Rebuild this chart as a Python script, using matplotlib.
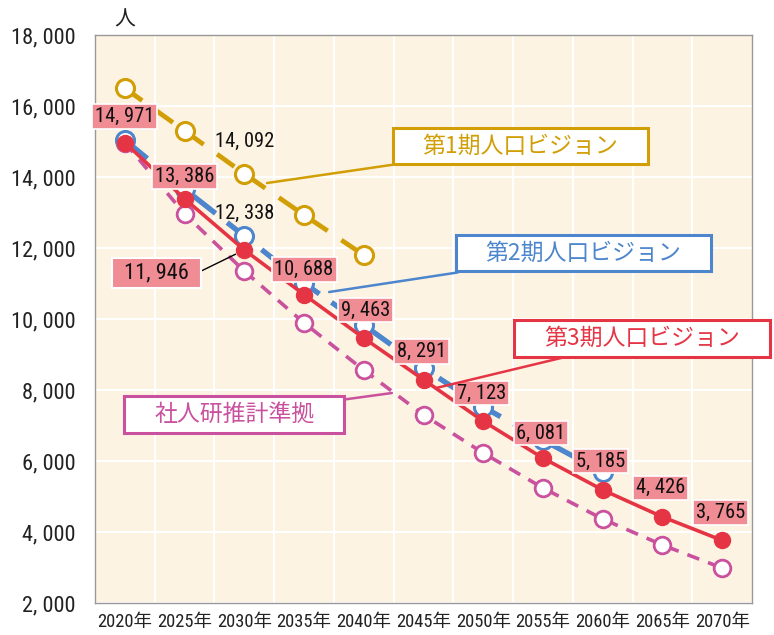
import matplotlib
matplotlib.use("Agg")
import matplotlib.pyplot as plt
from matplotlib.ticker import FuncFormatter
from matplotlib import font_manager

plt.rcParams['font.family'] = ['Noto Sans CJK JP', 'DejaVu Sans']

_ttf = font_manager.fontManager.ttflist
_names = {f.name for f in _ttf}
NUMFAM = ['Noto Sans CJK JP', 'DejaVu Sans']
STRETCH = 'normal'
K = 0.78
for cand in ['Liberation Sans Narrow', 'Roboto Condensed', 'Open Sans Condensed',
             'Noto Sans Condensed', 'DejaVu Sans Condensed']:
    if cand in _names:
        NUMFAM = [cand, 'Noto Sans CJK JP']
        K = 1.0 if 'Narrow' in cand else 0.92
        break
else:
    if any(f.name == 'DejaVu Sans' and 'ondensed' in f.fname for f in _ttf):
        NUMFAM = ['DejaVu Sans', 'Noto Sans CJK JP']
        STRETCH = 'condensed'
        K = 0.88

years = ['2020年', '2025年', '2030年', '2035年', '2040年', '2045年', '2050年',
         '2055年', '2060年', '2065年', '2070年']
vision1 = [16500, 15300, 14092, 12930, 11800]
vision2 = [15040, 13660, 12338, 11010, 9830, 8620, 7520, 6590, 5690]
vision3 = [14971, 13386, 11946, 10688, 9463, 8291, 7123, 6081, 5185, 4426, 3765]
ipss = [14971, 12960, 11350, 9890, 8560, 7300, 6225, 5240, 4366, 3634, 2986]

yticks = [2000, 4000, 6000, 8000, 10000, 12000, 14000, 16000, 18000]

c_gold = '#D19E06'
c_blue = '#4D86CC'
c_red = '#E53545'
c_mag = '#C9519D'
c_bg = '#FDF3E2'
c_lab = '#F08C94'


def fmt(v):
    return f"{int(v):,}".replace(',', ', ')


fig = plt.figure(figsize=(7.74, 6.35), dpi=100)
ax = fig.add_axes([95/774, 32/635, 657/774, 568/635])
ax.set_facecolor(c_bg)

x = list(range(len(years)))

ax.plot(x[:len(ipss)], ipss, color=c_mag, lw=2.6, dashes=(3.5, 2.6), marker='o',
        ms=12, mfc='white', mec=c_mag, mew=2.0, zorder=3)
ax.plot(x[:len(vision1)], vision1, color=c_gold, lw=3.4, dashes=(4.5, 3.5), marker='o',
        ms=13, mfc='white', mec=c_gold, mew=2.2, zorder=3)
ax.plot(x[:len(vision2)], vision2, color=c_blue, lw=3.8, dashes=(5.5, 2.8), marker='o',
        ms=13, mfc='white', mec=c_blue, mew=2.2, zorder=4)
ax.plot(x, vision3, color=c_red, lw=2.6, marker='o', ms=11.5, mfc=c_red, mec=c_red,
        zorder=5)

ax.set_xlim(-0.5, len(years) - 0.5)
ax.set_ylim(2000, 18000)
ax.set_yticks(yticks)
ax.yaxis.set_major_formatter(FuncFormatter(lambda v, p: fmt(v)))
ax.set_xticks(x)
ax.set_xticklabels(years)
ax.set_xticks([i - 0.5 for i in range(1, len(years))], minor=True)
ax.grid(which='minor', axis='x', color='white', lw=1.5)
ax.grid(which='major', axis='y', color='white', lw=1.5)
ax.grid(which='major', axis='x', visible=False)
ax.set_axisbelow(True)
ax.tick_params(axis='both', which='both', length=0)
ax.tick_params(axis='y', pad=14, colors='#222222')
ax.tick_params(axis='x', pad=7, colors='#222222')
for lab in ax.get_yticklabels():
    lab.set_family(NUMFAM)
    lab.set_fontstretch(STRETCH)
    lab.set_fontsize(17.5 * K)
for lab in ax.get_xticklabels():
    lab.set_family(NUMFAM)
    lab.set_fontstretch(STRETCH)
    lab.set_fontsize(14.5 * K)
for s in ax.spines.values():
    s.set_color('#999999')
    s.set_linewidth(1.0)

ax.annotate('人', xy=(0, 18000), xytext=(0, 15), textcoords='offset pixels',
            fontsize=15, ha='center', va='center', color='#222222', annotation_clip=False)

# red data labels
offsets = [(0, 26), (0, 22), (-88, -23), (0, 25), (2, 28), (-2, 28), (-2, 28),
           (-2, 25), (-2, 29), (-2, 29), (-2, 28)]
for i, (v, off) in enumerate(zip(vision3, offsets)):
    if i == 2:
        ax.annotate(fmt(v), xy=(i, v), xytext=off,
                    textcoords='offset pixels', ha='center', va='center', fontsize=17.5 * K,
                    family=NUMFAM, fontstretch=STRETCH, color='#111111', zorder=7,
                    bbox=dict(boxstyle='square,pad=0.55', mutation_aspect=0.38,
                              fc=c_lab, ec='white', lw=1.5),
                    arrowprops=dict(arrowstyle='-', color='black', lw=1.0, shrinkA=0,
                                    shrinkB=7,
                                    connectionstyle='arc,angleA=0,armA=41,angleB=0,armB=0,rad=0'))
        continue
    ax.annotate(fmt(v), xy=(i, v), xytext=off,
                textcoords='offset pixels', ha='center', va='center', fontsize=16 * K,
                family=NUMFAM, fontstretch=STRETCH, color='#111111', zorder=7,
                bbox=dict(boxstyle='square,pad=0.14', fc=c_lab, ec='white', lw=1.2))

ax.annotate(fmt(vision1[2]), xy=(2, vision1[2]), xytext=(0, 32),
            textcoords='offset pixels', ha='center', va='center', fontsize=16 * K,
            family=NUMFAM, fontstretch=STRETCH, color='#111111', zorder=7)
ax.annotate(fmt(vision2[2]), xy=(2, vision2[2]), xytext=(0, 23),
            textcoords='offset pixels', ha='center', va='center', fontsize=16 * K,
            family=NUMFAM, fontstretch=STRETCH, color='#111111', zorder=7)

# series name boxes
names = [('第1期人口ビジョン', c_gold, (6.62, 14870), (2.38, 13830)),
         ('第2期人口ビジョン', c_blue, (7.68, 11850), (3.42, 10760)),
         ('第3期人口ビジョン', c_red, (8.66, 9450), (5.22, 8060)),
         ('社人研推計準拠', c_mag, (1.83, 7310), (4.47, 7915))]
for name, col, tpos, ppos in names:
    ax.annotate(name, xy=ppos, xytext=tpos, textcoords='data', ha='center', va='center',
                fontsize=16.5, color=col, zorder=8, annotation_clip=False,
                bbox=dict(boxstyle='square,pad=1.3', mutation_aspect=0.22,
                          fc='white', ec=col, lw=2.2),
                arrowprops=dict(arrowstyle='-', color=col, lw=1.8, shrinkA=0, shrinkB=0))

fig.savefig('out.png', dpi=100, facecolor='white')
